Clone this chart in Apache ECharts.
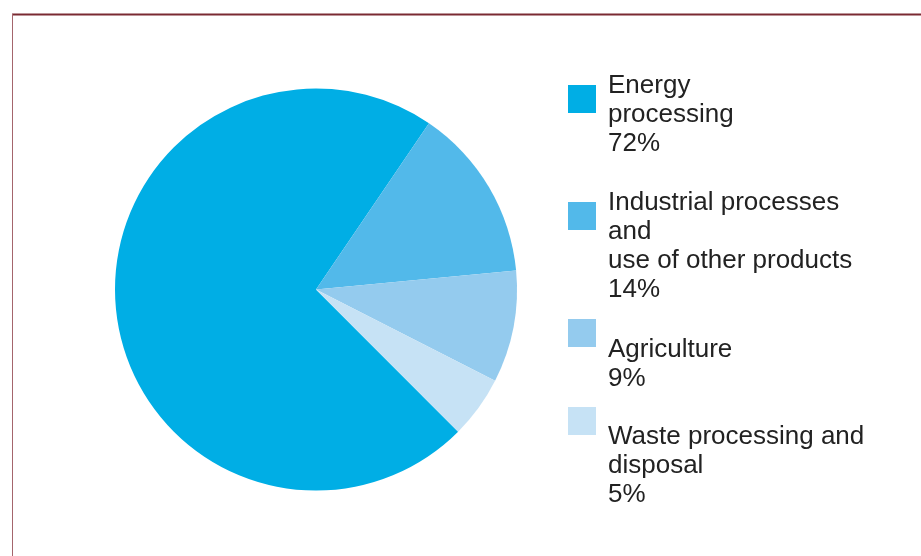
<!DOCTYPE html>
<html>
<head>
<meta charset="utf-8">
<script src="https://cdn.jsdelivr.net/npm/echarts@6/dist/echarts.min.js"></script>
<style>
html,body{margin:0;padding:0;background:#fff;}
#chart{width:921px;height:556px;}
</style>
</head>
<body>
<div id="chart"></div>
<script>
// Data
var categories = ['Energy\nprocessing', 'Industrial processes\nand\nuse of other products', 'Agriculture', 'Waste processing and\ndisposal'];
var values = [72, 14, 9, 5];
var colors = ['#00aee5', '#52b9ea', '#94cbee', '#c6e2f5'];

// Legend layout (pixel positions, not data)
var legendBoxTops = [85, 202, 319, 407];
var legendTextCenters = [86, 203, 350, 437];

var chart = echarts.init(document.getElementById('chart'), null, {renderer: 'canvas'});

var pieData = categories.map(function (c, i) {
  return { name: c, value: values[i], itemStyle: { color: colors[i] } };
});

var graphics = [
  { type: 'line', shape: { x1: 12, y1: 14.5, x2: 921, y2: 14.5 }, style: { stroke: '#7a2a32', lineWidth: 2 }, z: 10 },
  { type: 'line', shape: { x1: 12.5, y1: 14, x2: 12.5, y2: 556 }, style: { stroke: '#a4656c', lineWidth: 1 }, z: 10 }
];
var lineH = 29;
categories.forEach(function (c, i) {
  graphics.push({
    type: 'rect', shape: { x: 568, y: legendBoxTops[i], width: 28, height: 28 },
    style: { fill: colors[i] }
  });
  graphics.push({
    type: 'text', x: 608, y: legendTextCenters[i] - lineH / 2,
    style: {
      text: c + '\n' + values[i] + '%',
      font: '26px "Liberation Sans", Arial, sans-serif',
      lineHeight: lineH,
      fill: '#222222',
      align: 'left',
      verticalAlign: 'top'
    }
  });
});

chart.setOption({
  animation: false,
  backgroundColor: '#fff',
  series: [{
    type: 'pie',
    center: [316, 289.5],
    radius: [0, 201],
    startAngle: 315,
    clockwise: true,
    label: { show: false },
    labelLine: { show: false },
    emphasis: { disabled: true },
    itemStyle: { borderWidth: 0 },
    data: pieData
  }],
  graphic: graphics
});
</script>
</body>
</html>
